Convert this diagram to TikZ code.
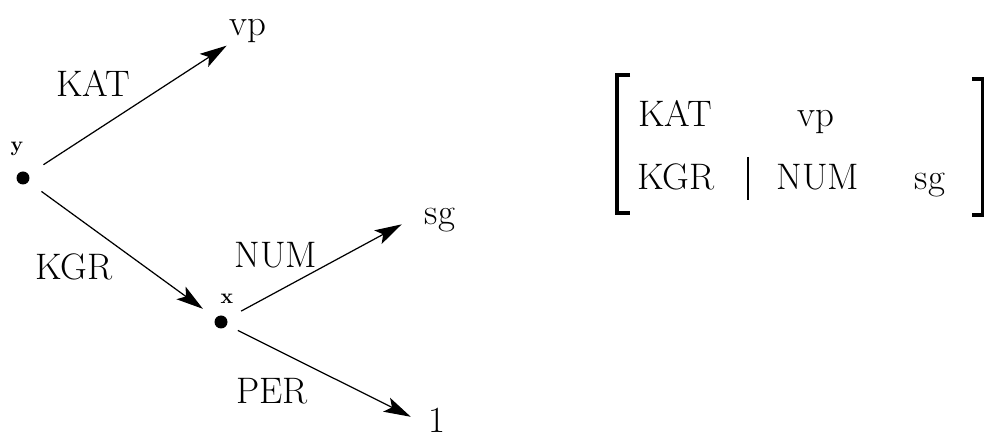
\documentclass[tikz,border=0pt]{standalone}
\usetikzlibrary{arrows.meta,positioning}

\begin{document}
\begin{tikzpicture}[x=0.02cm, y=-0.02cm,
    every node/.style={font=\fontsize{21}{25}\selectfont, inner sep=1.5pt},
    featdot/.style={circle, fill=black, inner sep=0pt, minimum size=2.6mm},
    idlbl/.style={font=\fontsize{12}{14}\selectfont\bfseries, inner sep=0pt},
    edgearr/.style={line width=0.7pt, -{Stealth[length=5.4mm, width=3.1mm, inset=1.2mm]}},
    brk/.style={line width=1.8pt}]
    \useasboundingbox (0,0) rectangle (984,438);

    % Feature graph
    % nodes y and x
    \node[featdot] (y) at (23,178) {};
    \node[idlbl] (ylab) at (17,149) {y};
    \node[featdot] (x) at (221,322) {};
    \node[idlbl] (xlab) at (227,299) {x};

    % values
    \node (vp) at (248,31) {vp};
    \node (sg) at (440,220) {sg};
    \node (one) at (437,420) {1};

    % edges and their features
    \draw[edgearr, shorten <=3.5mm] (y) -- (vp.south west);
    \draw[edgearr, shorten <=3.2mm, shorten >=3.1mm] (y) -- (x);
    \draw[edgearr, shorten <=3.2mm, shorten >=4.6mm] (x) -- (sg.160);
    \draw[edgearr, shorten <=2.4mm, shorten >=3.3mm] (x) -- (one.200);
    \node (katlab) at (93,83) {KAT};
    \node (kgrlab) at (74,267) {KGR};
    \node (numlab) at (276,255) {NUM};
    \node (perlab) at (272,391) {PER};

    % Attribute-value matrix
    \draw[brk] (630,75) -- (617,75) -- (617,213) -- (630,213);
    \draw[brk] (972,79) -- (983,79) -- (983,215) -- (972,215);
    \node[anchor=base] (mkat) at (675,127) {KAT};
    \node[anchor=base] (mvp) at (816,127) {vp};
    \node[anchor=base] (mkgr) at (676,190) {KGR};
    \node[anchor=base] (mnum) at (818,190) {NUM};
    \node[anchor=base] (msg) at (930,190) {sg};
    \draw[line width=1pt] (748,157) -- (748,200);
\end{tikzpicture}
\end{document}
